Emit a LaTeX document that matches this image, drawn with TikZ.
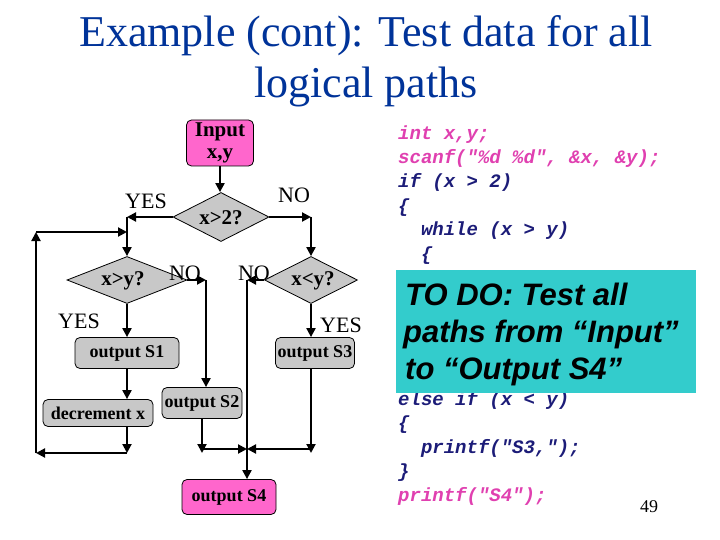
\documentclass[tikz,border=0pt]{standalone}
\usepackage{fontspec}
\setmainfont{Liberation Serif}
\newfontfamily\codefont{Liberation Mono}
\newfontfamily\arialfont{Liberation Sans}
\usetikzlibrary{shapes.geometric,arrows.meta}
\definecolor{titleblue}{RGB}{0,51,153}
\definecolor{boxpink}{RGB}{255,102,204}
\definecolor{boxgray}{RGB}{200,200,200}
\definecolor{todocyan}{RGB}{51,204,204}
\definecolor{codepink}{RGB}{224,64,176}
\definecolor{codeblue}{RGB}{28,28,120}
\tikzset{
  ln/.style={line width=2pt, draw=black},
  arr/.style={ln, -{Triangle[length=9pt,width=9pt]}},
  gbox/.style={draw=black, line width=0.8pt, fill=boxgray, rounded corners=5pt, inner sep=0pt, font=\fontsize{18}{20}\selectfont\bfseries},
  pbox/.style={gbox, fill=boxpink},
  dia/.style={diamond, draw=black, line width=0.8pt, fill=boxgray, inner sep=0pt},
  dtext/.style={font=\fontsize{21}{22}\selectfont\bfseries, inner sep=0pt},
  yn/.style={font=\fontsize{22}{24}\selectfont, anchor=base, inner sep=0pt},
  codeline/.style={anchor=base west, inner sep=0pt, font=\codefont\fontsize{19}{24}\selectfont\bfseries\itshape},
  titletext/.style={anchor=base, inner sep=0pt, text=titleblue, font=\fontsize{44}{50}\selectfont},
  todotext/.style={anchor=base west, inner sep=0pt, font=\arialfont\fontsize{31}{37}\selectfont\bfseries\itshape},
}
\begin{document}
\begin{tikzpicture}[x=1pt,y=-1pt]
\useasboundingbox (0,0) rectangle (720,540);
\fill[white] (0,0) rectangle (720,540);

% title
\node[titletext] (t1) at (366,47) {Example (cont): Test data for all};
\node[titletext] (t2) at (366,98) {logical paths};

% flowchart nodes
\node[pbox, minimum width=67pt, minimum height=46pt, align=center, font=\fontsize{21}{22}\selectfont\bfseries] (inp) at (220,143) {Input\\x,y};
\node[dia, minimum width=96pt, minimum height=49pt] (d1) at (221,217) {};
\node[dtext] (d1t) at (221,218) {x>2?};
\node[dia, minimum width=120pt, minimum height=47pt] (d2) at (127,280) {};
\node[dtext] (d2t) at (123,281) {x>y?};
\node[dia, minimum width=93pt, minimum height=47pt] (d3) at (311,280) {};
\node[dtext] (d3t) at (313,281) {x<y?};
\node[gbox, minimum width=104pt, minimum height=31pt] (s1) at (127,353) {output S1};
\node[gbox, minimum width=110pt, minimum height=27pt] (dec) at (98,413) {decrement x};
\node[gbox, minimum width=80pt, minimum height=31pt] (s2) at (202,403) {output S2};
\node[gbox, minimum width=79pt, minimum height=31pt] (s3) at (315,353) {output S3};
\node[pbox, minimum width=94pt, minimum height=35pt] (s4) at (229,497) {output S4};

% labels
\node[yn] (y1) at (146,208) {YES};
\node[yn] (n1) at (294,203) {NO};
\node[yn] (n2l) at (185,280) {NO};
\node[yn] (n3l) at (254,280) {NO};
\node[yn] (y2) at (79,328) {YES};
\node[yn] (y3) at (341,332) {YES};

% coordinates
\coordinate (ys) at (127,217);
\coordinate (ns) at (311,217);
\coordinate (n2) at (206,280);
\coordinate (n3) at (247,280);
\coordinate (lc) at (127,453);
\coordinate (ll) at (36,453);
\coordinate (lu) at (36,232);
\coordinate (lr) at (127,232);
\coordinate (m2) at (202,453);
\coordinate (ml) at (202,449);
\coordinate (mc) at (247,449);
\coordinate (mr) at (311,449);
\coordinate (m3) at (311,453);

% connectors
\draw[arr] (inp.south) -- (inp.south |- d1.north);
\draw[arr] (d1.west) -- (ys);
\draw[arr] (ys) -- (d2.north);
\draw[arr] (d1.east) -- (ns);
\draw[arr] (ns) -- (d3.north);
\draw[arr] (d2.south) -- (s1.north);
\draw[arr] (d2.east) -- (n2);
\draw[arr] (n2) -- (n2 |- s2.north);
\draw[arr] (d3.west) -- (n3);
\draw[arr] (n3) -- (n3 |- s4.north);
\draw[arr] (d3.south) -- (d3.south |- s3.north);
\draw[arr] (s1.south) -- (s1.south |- dec.north);
\draw[arr] (s1.south |- dec.south) -- (lc);
\draw[arr] (lc) -- (ll);
\draw[arr] (ll) -- (lu);
\draw[arr] (lu) -- (lr);
\draw[arr] (s2.south) -- (m2);
\draw[arr] (ml) -- (mc);
\draw[arr] (mr) -- (mc);
\draw[arr] (d3.south |- s3.south) -- (m3);

% code
\node[codeline, text=codepink] (c0) at (398,140) {int x,y;};
\node[codeline, text=codepink] (c1) at (398,164) {scanf("\%d \%d", \&x, \&y);};
\node[codeline, text=codeblue] (c2) at (398,188) {if (x > 2)};
\node[codeline, text=codeblue] (c3) at (398,212) {\{};
\node[codeline, text=codeblue] (c4) at (398,236) {\ \ while (x > y)};
\node[codeline, text=codeblue] (c5) at (398,260) {\ \ \{};
\node[codeline, text=codeblue] (c11) at (398,405) {else if (x < y)};
\node[codeline, text=codeblue] (c12) at (398,429) {\{};
\node[codeline, text=codeblue] (c13) at (398,453) {\ \ printf("S3,");};
\node[codeline, text=codeblue] (c14) at (398,477) {\}};
\node[codeline, text=codepink] (c15) at (398,501) {printf("S4");};

% to do box
\node[fill=todocyan, minimum width=300pt, minimum height=123pt, anchor=north west, inner sep=0pt] (todo) at (396,270) {};
\node[todotext] (td1) at (405,305) {TO DO: Test all};
\node[todotext] (td2) at (403,342) {paths from “Input”};
\node[todotext] (td3) at (405,379) {to “Output S4”};

% page number
\node[anchor=base, inner sep=0pt, font=\fontsize{18}{20}\selectfont] (pg) at (649,512) {49};
\end{tikzpicture}
\end{document}
